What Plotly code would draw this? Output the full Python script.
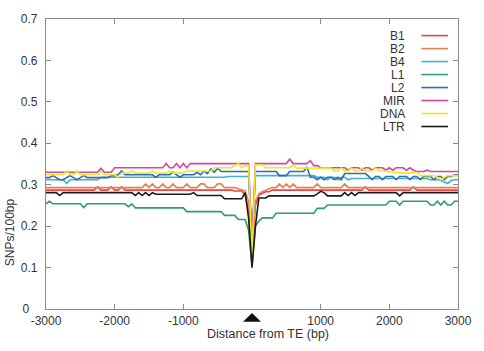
import plotly.graph_objects as go

# ---- data ----
distance = list(range(-3000, 3001, 50))  # bp, 121 points

series_names = ["B1", "B2", "B4", "L1", "L2", "MIR", "DNA", "LTR"]
series_colors = ["#e2474a", "#e8804e", "#3fb0e0", "#2f9e68", "#2f6db0", "#d5479e", "#f2e52a", "#1a1a1a"]

B1 = [0.287]*10 + \
     [0.287,0.287,0.287,0.287,0.287,0.295,0.287,0.287,0.287,0.295] + \
     [0.287,0.287,0.295,0.287,0.287,0.287,0.287,0.287,0.287,0.287] + \
     [0.287]*10 + [0.287]*10 + \
     [0.287,0.287,0.287,0.287,0.287,0.285,0.285,0.285,0.275,0.240] + \
     [0.140,0.250,0.275,0.280,0.283,0.283,0.287,0.287,0.287,0.287] + \
     [0.287]*10 + [0.287]*10 + \
     [0.287,0.287,0.287,0.295,0.287,0.287,0.287,0.287,0.287,0.287] + \
     [0.287,0.287,0.287,0.287,0.287,0.287,0.287,0.295,0.287,0.287] + \
     [0.287]*11

B2 = [0.293]*10 + [0.293]*10 + \
     [0.293,0.293,0.293,0.293,0.293,0.293,0.293,0.293,0.293,0.302] + \
     [0.293,0.302,0.293,0.293,0.302,0.293,0.293,0.302,0.293,0.293] + \
     [0.293,0.302,0.293,0.293,0.293,0.302,0.302,0.293,0.293,0.293] + \
     [0.302,0.302,0.293,0.293,0.293,0.293,0.290,0.288,0.285,0.260] + \
     [0.160,0.260,0.278,0.283,0.287,0.290,0.293,0.293,0.302,0.293] + \
     [0.302,0.293,0.302,0.293,0.293,0.293,0.293,0.293,0.293,0.302] + \
     [0.293,0.293,0.293,0.293,0.293,0.293,0.293,0.302,0.293,0.293] + \
     [0.293]*10 + [0.293]*10 + [0.293]*11

B4 = [0.312,0.312,0.312,0.312,0.312,0.312,0.303,0.312,0.312,0.312] + \
     [0.312,0.312,0.312,0.312,0.312,0.312,0.318,0.318,0.318,0.318] + \
     [0.318]*10 + [0.318]*10 + [0.318]*10 + \
     [0.318,0.318,0.318,0.320,0.320,0.320,0.320,0.320,0.320,0.320] + \
     [0.170,0.322,0.322,0.322,0.322,0.322,0.322,0.322,0.322,0.322] + \
     [0.322,0.322,0.322,0.322,0.322,0.322,0.322,0.322,0.322,0.318] + \
     [0.318,0.318,0.312,0.318,0.318,0.312,0.318,0.318,0.312,0.315] + \
     [0.315]*10 + [0.315]*10 + \
     [0.315,0.315,0.312,0.312,0.312,0.310,0.307,0.303,0.310,0.312,0.312]

L1 = [0.254,0.260,0.254,0.254,0.254,0.254,0.254,0.254,0.254,0.254] + \
     [0.254,0.245,0.254,0.254,0.254,0.254,0.254,0.254,0.254,0.254] + \
     [0.254,0.254,0.254,0.254,0.247,0.254,0.244,0.244,0.244,0.244] + \
     [0.244]*10 + \
     [0.244,0.235,0.235,0.235,0.235,0.235,0.235,0.235,0.235,0.235] + \
     [0.235,0.235,0.226,0.226,0.226,0.226,0.216,0.216,0.216,0.190] + \
     [0.105,0.200,0.212,0.220,0.220,0.220,0.220,0.231,0.231,0.231] + \
     [0.231,0.231,0.231,0.231,0.231,0.231,0.231,0.231,0.231,0.243] + \
     [0.243,0.243,0.251,0.251,0.251,0.251,0.251,0.251,0.251,0.251] + \
     [0.251]*10 + \
     [0.260,0.260,0.260,0.251,0.260,0.260,0.260,0.260,0.260,0.260] + \
     [0.260,0.260,0.251,0.251,0.260,0.251,0.260,0.251,0.251,0.260,0.260]

L2 = [0.317,0.317,0.322,0.317,0.312,0.312,0.317,0.322,0.317,0.312] + \
     [0.317,0.322,0.317,0.317,0.317,0.317,0.317,0.317,0.317,0.322] + \
     [0.322,0.324,0.333,0.324,0.324,0.324,0.324,0.324,0.324,0.324] + \
     [0.324,0.324,0.318,0.324,0.324,0.324,0.324,0.330,0.324,0.318] + \
     [0.324,0.324,0.324,0.324,0.330,0.324,0.333,0.327,0.338,0.330] + \
     [0.340,0.332,0.332,0.332,0.332,0.332,0.332,0.332,0.332,0.332] + \
     [0.160,0.332,0.332,0.332,0.332,0.332,0.332,0.332,0.322,0.322] + \
     [0.322,0.332,0.332,0.332,0.332,0.332,0.343,0.318,0.318,0.312] + \
     [0.318,0.312,0.318,0.318,0.312,0.318,0.312,0.327,0.327,0.327] + \
     [0.327,0.327,0.327,0.327,0.320,0.312,0.320,0.320,0.312,0.320] + \
     [0.320,0.320,0.312,0.320,0.320,0.320,0.312,0.320,0.320,0.312] + \
     [0.320,0.320,0.320,0.312,0.320,0.320,0.312,0.320,0.320,0.324,0.324]

MIR = [0.330]*10 + \
      [0.330,0.330,0.330,0.330,0.330,0.330,0.340,0.330,0.330,0.330] + \
      [0.341]*10 + \
      [0.341,0.341,0.341,0.341,0.341,0.351,0.341,0.341,0.351,0.341] + \
      [0.351,0.341,0.351,0.351,0.351,0.351,0.351,0.351,0.351,0.351] + \
      [0.351]*10 + \
      [0.160,0.351,0.351,0.351,0.351,0.351,0.351,0.351,0.351,0.351] + \
      [0.351,0.362,0.351,0.351,0.351,0.351,0.351,0.358,0.346,0.346] + \
      [0.341,0.341,0.341,0.341,0.341,0.341,0.341,0.341,0.335,0.341] + \
      [0.341,0.341,0.335,0.341,0.341,0.335,0.341,0.341,0.341,0.335] + \
      [0.341,0.335,0.341,0.341,0.341,0.335,0.341,0.335,0.332,0.332] + \
      [0.332,0.335,0.332,0.332,0.332,0.332,0.332,0.332,0.332,0.332,0.332]

DNA = [0.324,0.324,0.324,0.324,0.324,0.324,0.333,0.324,0.324,0.333] + \
      [0.324,0.324,0.324,0.324,0.324,0.324,0.333,0.324,0.324,0.324] + \
      [0.324,0.318,0.328,0.328,0.328,0.333,0.328,0.328,0.328,0.328] + \
      [0.328,0.333,0.328,0.328,0.328,0.328,0.333,0.328,0.328,0.328] + \
      [0.328,0.333,0.333,0.333,0.333,0.333,0.333,0.333,0.333,0.341] + \
      [0.341,0.341,0.341,0.341,0.341,0.346,0.351,0.341,0.346,0.346] + \
      [0.125,0.348,0.348,0.348,0.341,0.341,0.341,0.341,0.341,0.341] + \
      [0.341,0.341,0.348,0.340,0.340,0.340,0.340,0.340,0.340,0.340] + \
      [0.340,0.340,0.340,0.340,0.333,0.333,0.340,0.333,0.333,0.340] + \
      [0.333,0.333,0.340,0.333,0.333,0.333,0.340,0.333,0.333,0.333] + \
      [0.330,0.330,0.330,0.328,0.328,0.328,0.328,0.330,0.330,0.322] + \
      [0.322,0.322,0.322,0.322,0.318,0.312,0.318,0.322,0.322,0.322,0.322]

LTR = [0.281,0.281,0.281,0.281,0.274,0.281,0.281,0.281,0.281,0.281] + \
      [0.281]*10 + \
      [0.281,0.281,0.281,0.281,0.281,0.281,0.274,0.281,0.274,0.281] + \
      [0.274,0.281,0.277,0.277,0.277,0.277,0.277,0.277,0.277,0.277] + \
      [0.277,0.277,0.277,0.281,0.274,0.274,0.274,0.274,0.274,0.274] + \
      [0.274,0.274,0.266,0.266,0.266,0.266,0.266,0.266,0.281,0.220] + \
      [0.100,0.200,0.268,0.268,0.268,0.273,0.273,0.273,0.273,0.273] + \
      [0.273,0.273,0.273,0.273,0.273,0.273,0.273,0.273,0.273,0.278] + \
      [0.284,0.281,0.273,0.273,0.273,0.273,0.273,0.281,0.274,0.281] + \
      [0.274,0.281,0.281,0.281,0.281,0.281,0.281,0.281,0.281,0.281] + \
      [0.281,0.281,0.281,0.273,0.281,0.281,0.281,0.281,0.281,0.281] + \
      [0.281]*11

series_values = [B1, B2, B4, L1, L2, MIR, DNA, LTR]
for s in series_values:
    assert len(s) == len(distance), len(s)

x_tickvals = [-3000, -2000, -1000, 1000, 2000, 3000]
x_ticktext = ["-3000", "-2000", "-1000", "1000", "2000", "3000"]
y_tickvals = [0, 0.1, 0.2, 0.3, 0.4, 0.5, 0.6, 0.7]
y_ticktext = ["0\u2002\u2009", "0.1", "0.2", "0.3", "0.4", "0.5", "0.6", "0.7"]

# ---- figure ----
W, H = 484, 351
ML, MR, MT, MB = 46, 22, 12, 42
plot_h = H - MT - MB
plot_w = W - ML - MR
FONT = "Liberation Sans, Arial, sans-serif"
TXT = "#333333"

fig = go.Figure()
for name, color, vals in zip(series_names, series_colors, series_values):
    fig.add_trace(go.Scatter(x=distance, y=vals, mode="lines", name=name,
                             line=dict(color=color, width=1.6), showlegend=False))

axis_common = dict(showgrid=False, zeroline=False, showline=True, linecolor="#8a8a8a",
                   linewidth=1.2, mirror="ticks", ticks="inside", ticklen=5,
                   tickcolor="#8a8a8a", tickfont=dict(family=FONT, size=12, color=TXT))
fig.update_xaxes(range=[-3000, 3000], tickvals=x_tickvals, ticktext=x_ticktext,
                 ticklabelstandoff=0, **axis_common)
fig.update_yaxes(range=[0, 0.7], tickvals=y_tickvals, ticktext=y_ticktext,
                 ticklabelstandoff=5, **axis_common)

annotations = [
    dict(text="SNPs/100bp", xref="paper", yref="paper",
         x=(10 - ML) / plot_w, y=(H - MB - 230) / plot_h, textangle=-90,
         showarrow=False, font=dict(family=FONT, size=12, color=TXT),
         xanchor="center", yanchor="middle"),
    dict(text="Distance from TE (bp)", xref="paper", yref="paper",
         x=(270 - ML) / plot_w, y=-(335 - (H - MB)) / plot_h,
         showarrow=False, font=dict(family=FONT, size=12.5, color=TXT),
         xanchor="center", yanchor="middle"),
]
shapes = [
    # TE position marker under the axis at distance 0
    dict(type="path", xref="x", yref="paper",
         path="M -130,{b} L 130,{b} L 0,{t} Z".format(b=-13 / plot_h, t=-4 / plot_h),
         fillcolor="#111111", line=dict(width=0)),
]

# legend drawn gnuplot-style: label on the left, line sample on the right
for k, (name, color) in enumerate(zip(series_names, series_colors)):
    ypix = 29 + 13.3 * k
    yp = (H - MB - ypix) / plot_h
    annotations.append(dict(text=name, xref="paper", yref="paper",
                            x=(411 - ML) / plot_w, y=yp, xanchor="right", yanchor="middle",
                            showarrow=False, font=dict(family=FONT, size=12, color=TXT)))
    shapes.append(dict(type="line", xref="paper", yref="paper",
                       x0=(425 - ML) / plot_w, x1=(452 - ML) / plot_w, y0=yp, y1=yp,
                       line=dict(color=color, width=1.6)))

fig.update_layout(width=W, height=H, margin=dict(l=ML, r=MR, t=MT, b=MB),
                  paper_bgcolor="white", plot_bgcolor="white",
                  annotations=annotations, shapes=shapes)

fig.write_html("out.html", config={"displayModeBar": False})

# remove the browser's default page margin so the figure sits at the window origin
with open("out.html", "r", encoding="utf-8") as fh:
    html = fh.read()
html = html.replace("<head>", "<head><style>html,body{margin:0;padding:0;overflow:hidden;}</style>", 1)
with open("out.html", "w", encoding="utf-8") as fh:
    fh.write(html)
